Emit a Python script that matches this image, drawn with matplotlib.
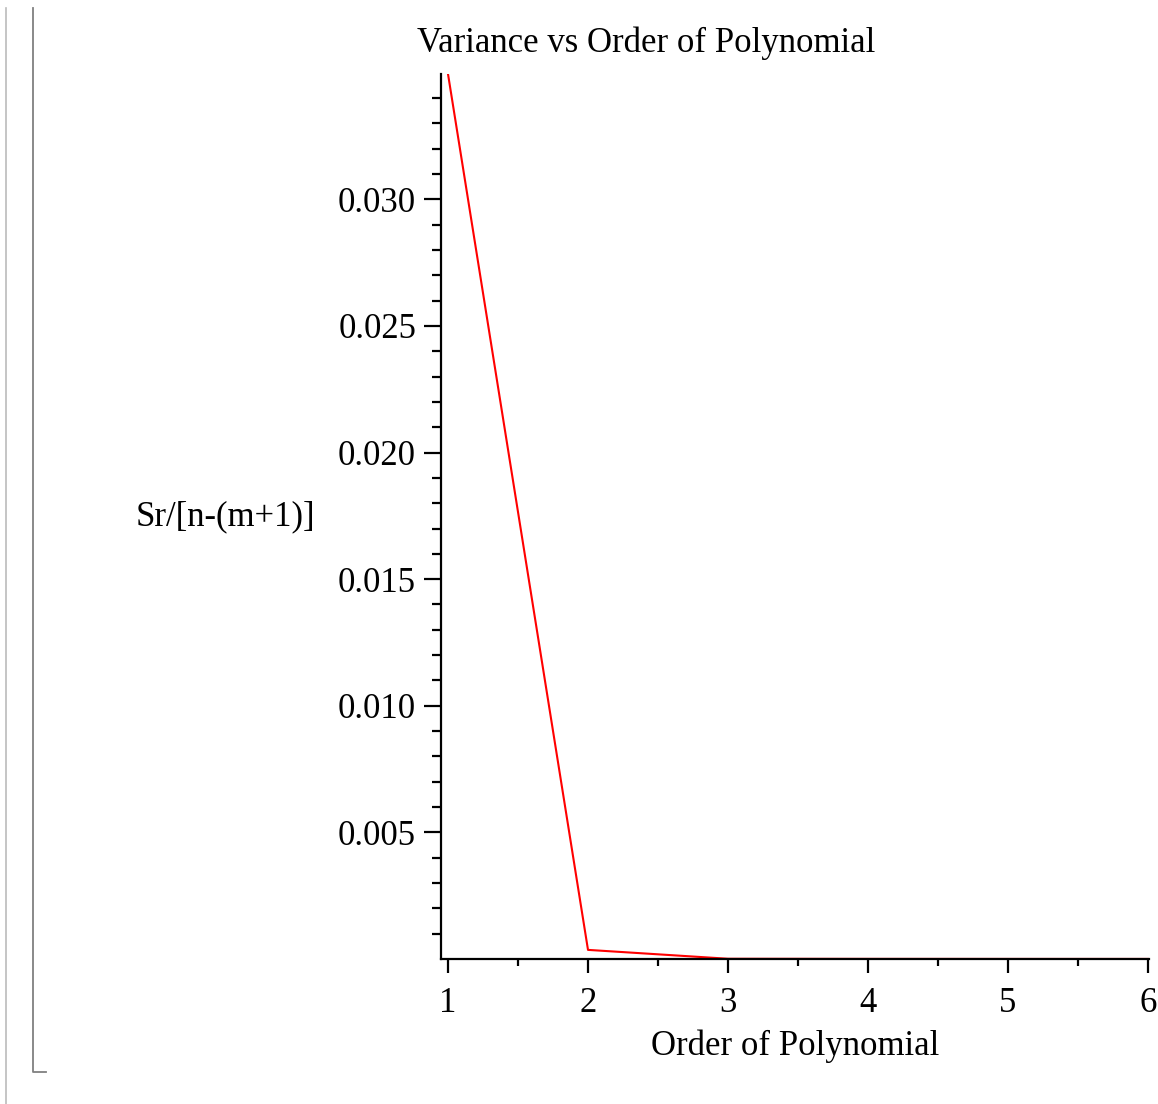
import matplotlib.pyplot as plt
from matplotlib.ticker import MultipleLocator, FixedLocator
from matplotlib.lines import Line2D

# data
order = [1, 2, 3, 4, 5, 6]
variance = [0.03495, 0.00036, 0.00001, 0.000005, 0.000003, 0.000002]
ytick_vals = [0.005, 0.010, 0.015, 0.020, 0.025, 0.030]

title = 'Variance vs Order of Polynomial'
xlabel = 'Order of Polynomial'
ylabel = 'Sr/[n-(m+1)]'

plt.rcParams['font.family'] = ['Liberation Serif', 'DejaVu Serif']
fs = 25

fig = plt.figure(figsize=(11.58, 11.04), dpi=100)
ax = fig.add_axes([441 / 1158, 145 / 1104, 708.4 / 1158, 885 / 1104])

ax.plot(order, variance, color='red', linewidth=1.5)

ax.set_xlim(0.95, 6.01)
ax.set_ylim(0, max(variance))

# Remove top/right spines
for s in ['top', 'right']:
    ax.spines[s].set_visible(False)
for s in ['left', 'bottom']:
    ax.spines[s].set_linewidth(1.6)

ax.xaxis.set_major_locator(MultipleLocator(1))
ax.xaxis.set_minor_locator(MultipleLocator(0.5))
ax.yaxis.set_major_locator(FixedLocator(ytick_vals))
ax.yaxis.set_minor_locator(FixedLocator(
    [i * 0.001 for i in range(1, 35) if i % 5 != 0]))
ax.set_yticklabels(['%.3f' % v for v in ytick_vals])

ax.tick_params(axis='both', which='both', direction='out', width=1.6,
               labelsize=fs)
ax.tick_params(axis='y', which='major', length=12, pad=6)
ax.tick_params(axis='y', which='minor', length=6.5)
ax.tick_params(axis='x', which='major', length=10, pad=10)
ax.tick_params(axis='x', which='minor', length=5)

ax.set_xlabel(xlabel, fontsize=fs, labelpad=7)
ax.set_ylabel(ylabel, fontsize=fs, rotation=0, ha='right', va='center')
ax.yaxis.set_label_coords(-0.178, 0.5)

fig.text(646 / 1158, 1 - 43 / 1104, title, fontsize=fs,
         ha='center', va='center')

# worksheet brackets on the left
fig.add_artist(Line2D([6 / 1158, 6 / 1158], [0, 1 - 8 / 1104],
                      color='#bbbbbb', linewidth=1.2))
fig.add_artist(Line2D([33 / 1158, 33 / 1158, 46 / 1158],
                      [1 - 8 / 1104, 1 - 1072 / 1104, 1 - 1072 / 1104],
                      color='#808080', linewidth=1.3))

plt.savefig('out.png')
